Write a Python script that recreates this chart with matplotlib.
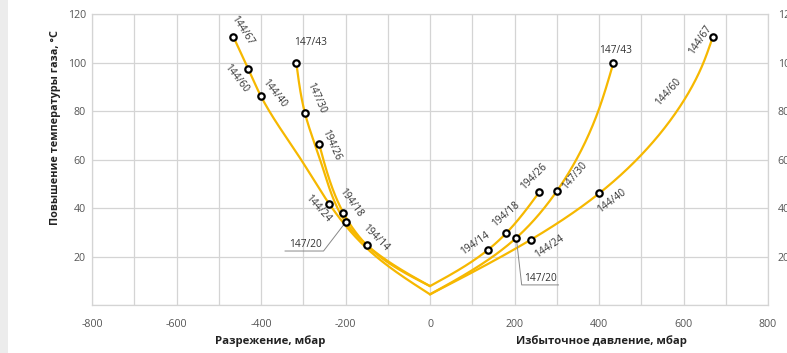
import numpy as np
import matplotlib
matplotlib.use("Agg")
import matplotlib.pyplot as plt
from matplotlib.patches import Rectangle

plt.rcParams['font.family'] = ['Open Sans', 'DejaVu Sans']
plt.rcParams['axes.unicode_minus'] = False

# ---- curve data (pressure, mbar -> gas temperature rise, °C) ----
# right branch (positive pressure)
r194_x = [0, 138, 180, 259]
r194_y = [7.8, 22.9, 29.6, 46.7]
r147_x = [0, 204, 300, 398, 434]
r147_y = [4.4, 27.7, 47.0, 80, 100]
r144_x = [0, 238, 401, 489, 584, 647, 669]
r144_y = [4.4, 26.9, 46.2, 60, 80, 100, 110.6]
# left branch (vacuum)
l194_x = [-262.7, -205, -150, 0]
l194_y = [66.7, 38, 24.8, 7.8]
l147_x = [-316.4, -295.9, -260, -199.6, -150, 0]
l147_y = [100, 79.2, 60, 34.2, 24.8, 7.8]
l144_x = [-465.6, -430, -400, -305, -239, -150, 0]
l144_y = [110.9, 97.4, 86.2, 60, 41.9, 23.5, 4.4]

# marked operating points
pts_x = [-465.6, -430, -400, -316.4, -295.9, -262.7, -239, -205, -199.6, -150,
         138, 180, 204.3, 238, 258.8, 300.6, 400.8, 433.9, 669]
pts_y = [110.9, 97.4, 86.2, 100, 79.2, 66.7, 41.9, 38, 34.2, 24.8,
         22.9, 29.6, 27.7, 26.9, 46.7, 47.0, 46.2, 100, 110.6]

# rotated point labels: text, x, y, angle
lab_text = ["144/67", "144/60", "144/40", "147/30", "194/26", "144/24", "194/18", "194/14",
            "194/14", "194/18", "194/26", "147/30", "144/40", "144/24", "144/60", "144/67"]
lab_x = [-445, -459, -369, -270.5, -234.8, -264.4, -187, -128.3,
         106.5, 180, 246, 343, 430, 281.7, 564, 639]
lab_y = [113.6, 93.4, 87.2, 85.4, 66.1, 40, 42, 27.9,
         25.5, 37.6, 52.9, 53.3, 43, 24.1, 88.1, 109.5]
lab_rot = [-57, -52, -52, -66, -66, -48, -54, -45,
           35, 41, 45, 50, 37, 34, 48, 56]

# horizontal labels
top_text = ["147/43", "147/43"]
top_x = [-281.7, 439.5]
top_y = [108.4, 105]

x_ticks = [-800, -600, -400, -200, 0, 200, 400, 600, 800]
y_ticks = [20, 40, 60, 80, 100, 120]

YELLOW = "#F6B800"
GRID = "#d4d4d4"
TXT = "#333333"

# pixel scale of the plot area, used to space the spline parameter evenly
PX_X = 676 / 1600
PX_Y = 290.5 / 120


def natural_spline(t, v, ts):
    t = np.asarray(t, float)
    v = np.asarray(v, float)
    n = len(t)
    h = np.diff(t)
    A = np.zeros((n, n))
    b = np.zeros(n)
    A[0, 0] = A[-1, -1] = 1
    for i in range(1, n - 1):
        A[i, i - 1] = h[i - 1]
        A[i, i] = 2 * (h[i - 1] + h[i])
        A[i, i + 1] = h[i]
        b[i] = 6 * ((v[i + 1] - v[i]) / h[i] - (v[i] - v[i - 1]) / h[i - 1])
    M = np.linalg.solve(A, b)
    idx = np.clip(np.searchsorted(t, ts) - 1, 0, n - 2)
    a = t[idx + 1] - ts
    c = ts - t[idx]
    hh = h[idx]
    return (M[idx] * a**3 / (6 * hh) + M[idx + 1] * c**3 / (6 * hh)
            + (v[idx] / hh - M[idx] * hh / 6) * a
            + (v[idx + 1] / hh - M[idx + 1] * hh / 6) * c)


def smooth(xs, ys, n=400):
    xs = np.asarray(xs, float)
    ys = np.asarray(ys, float)
    d = np.hypot(np.diff(xs) * PX_X, np.diff(ys) * PX_Y)
    t = np.concatenate([[0], np.cumsum(d)])
    ts = np.linspace(0, t[-1], n)
    return natural_spline(t, xs, ts), natural_spline(t, ys, ts)


fig = plt.figure(figsize=(7.87, 3.53), dpi=100)
fig.patches.append(Rectangle((0, 0), 8 / 787, 1, transform=fig.transFigure,
                             facecolor="#ececec", edgecolor="none", zorder=0))
ax = fig.add_axes([92 / 787, 48 / 353, 676 / 787, 290.5 / 353])
ax.set_xlim(-800, 800)
ax.set_ylim(0, 120)

for xs_, ys_ in [(r194_x, r194_y), (r147_x, r147_y), (r144_x, r144_y),
                 (l194_x, l194_y), (l147_x, l147_y), (l144_x, l144_y)]:
    cx, cy = smooth(xs_, ys_)
    ax.plot(cx, cy, color=YELLOW, lw=1.6, zorder=3, solid_capstyle="round")

ax.plot(pts_x, pts_y, "o", ms=4.6, mfc="white", mec="black", mew=1.6, zorder=5)

for t, x, y, r in zip(lab_text, lab_x, lab_y, lab_rot):
    ax.text(x, y, t, rotation=r, rotation_mode="anchor", ha="center", va="center",
            fontsize=7.3, color=TXT, zorder=6)
for t, x, y in zip(top_text, top_x, top_y):
    ax.text(x, y, t, ha="center", va="center", fontsize=7.3, color=TXT, zorder=6)

# underlined callouts for the 147/20 points
ax.text(-294, 24.8, "147/20", ha="center", va="center", fontsize=7.3, color=TXT, zorder=6)
ax.plot([-343, -252, -199.6], [22.3, 22.3, 34.2], color="#888888", lw=0.7, zorder=4)
ax.text(261, 10.8, "147/20", ha="center", va="center", fontsize=7.3, color=TXT, zorder=6)
ax.plot([204.3, 217, 304], [27.7, 8.3, 8.3], color="#888888", lw=0.7, zorder=4)

ax.set_xticks(np.arange(-800, 801, 100))
ax.set_xticklabels([str(v) if v in x_ticks else "" for v in range(-800, 801, 100)])
ax.set_yticks([0] + y_ticks)
ax.set_yticklabels([""] + [str(v) for v in y_ticks])
ax.grid(True, color=GRID, lw=0.9)
ax.tick_params(length=0, labelsize=7.7, labelcolor="#555555")
ax.tick_params(axis="x", pad=10)
ax.tick_params(axis="y", pad=4.5)
for s in ax.spines.values():
    s.set_color(GRID)
    s.set_linewidth(0.9)

ax2 = ax.twinx()
ax2.set_ylim(0, 120)
ax2.set_yticks(y_ticks)
ax2.set_yticklabels([str(v) for v in y_ticks])
ax2.tick_params(length=0, labelsize=7.7, labelcolor="#555555", pad=7)
for s in ax2.spines.values():
    s.set_visible(False)

fig.text(270 / 787, 1 - 341 / 353, "Разрежение, мбар", ha="center", va="center",
         fontsize=8.2, fontweight="bold", color="#222222")
fig.text(601 / 787, 1 - 341 / 353, "Избыточное давление, мбар", ha="center", va="center",
         fontsize=8.1, fontweight="bold", color="#222222")
fig.text(56 / 787, 1 - 128 / 353, "Повышение температуры газа, °С", ha="center", va="center",
         rotation=90, fontsize=7.8, fontweight="bold", color="#222222")

fig.savefig("out.png", dpi=100)
